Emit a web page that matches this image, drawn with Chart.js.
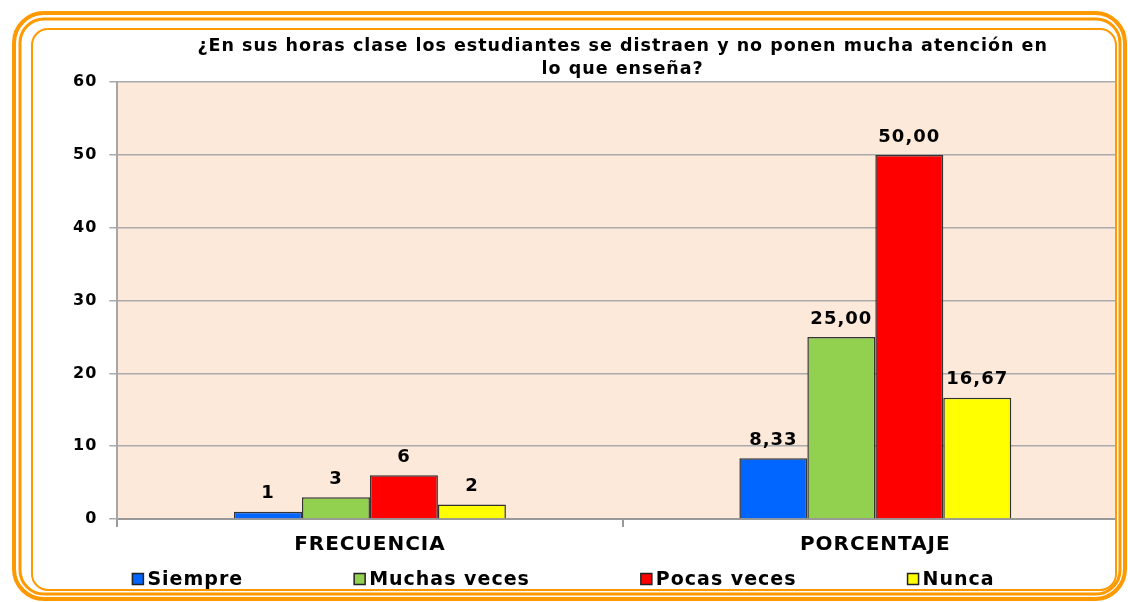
<!DOCTYPE html>
<html lang="es">
<head>
    <meta charset="UTF-8">
    <title>Distracción en clase</title>
    <script src="https://cdn.jsdelivr.net/npm/chart.js"></script>
    <style>
        body { margin:0; background:#fff; }
        #wrap { width:1128px; height:602px; position:relative; }
    </style>
</head>
<body>
    <div id="wrap"><canvas id="myChart"></canvas></div>

    <script>
        // datos
        const categorias = ['FRECUENCIA', 'PORCENTAJE'];
        const siempre = [1, 8.33];
        const muchasVeces = [3, 25];
        const pocasVeces = [6, 50];
        const nunca = [2, 16.67];
        const yTicks = [0, 10, 20, 30, 40, 50, 60];

        const fuente = "'DejaVu Sans', Verdana, sans-serif";

        // espaciado de letras (el original se ve ancho)
        const espaciado = {
            id: 'espaciado',
            beforeLayout(chart) { chart.ctx.letterSpacing = '1px'; },
            beforeDraw(chart) { chart.ctx.letterSpacing = '1px'; }
        };

        // fondo del area del grafico
        const fondoPlot = {
            id: 'fondoPlot',
            beforeDraw(chart) {
                const {ctx, chartArea} = chart;
                ctx.save();
                ctx.fillStyle = '#fde9da';
                ctx.fillRect(chartArea.left, chartArea.top, chartArea.right - chartArea.left, chartArea.bottom - chartArea.top);
                ctx.restore();
            }
        };

        // etiquetas encima de las barras
        const etiquetas = {
            id: 'etiquetas',
            afterDatasetsDraw(chart) {
                const ctx = chart.ctx;
                ctx.save();
                ctx.font = 'bold 18px ' + fuente;
                ctx.fillStyle = '#000';
                ctx.textAlign = 'center';
                ctx.textBaseline = 'bottom';
                chart.data.datasets.forEach((ds, i) => {
                    chart.getDatasetMeta(i).data.forEach((bar, j) => {
                        const v = ds.data[j];
                        const txt = j == 0 ? String(v) : v.toFixed(2).replace('.', ',');
                        ctx.fillText(txt, bar.x, bar.y - 9);
                    });
                });
                ctx.restore();
            }
        };

        // leyenda abajo con separacion amplia
        const leyenda = {
            id: 'leyenda',
            afterDraw(chart) {
                const ctx = chart.ctx;
                const sep = 110, caja = 11, y = 579;
                ctx.save();
                ctx.font = 'bold 19px ' + fuente;
                ctx.textBaseline = 'middle';
                const items = chart.data.datasets.map(ds => ({
                    ds, w: caja + 5 + ctx.measureText(ds.label).width
                }));
                const total = items.reduce((a, it) => a + it.w, 0) + sep * (items.length - 1);
                let x = chart.width / 2 - total / 2;
                items.forEach(it => {
                    ctx.fillStyle = it.ds.backgroundColor;
                    ctx.fillRect(x, y - caja / 2, caja, caja);
                    ctx.strokeStyle = '#222';
                    ctx.lineWidth = 1.5;
                    ctx.strokeRect(x, y - caja / 2, caja, caja);
                    ctx.fillStyle = '#000';
                    ctx.fillText(it.ds.label, x + caja + 4, y + 1);
                    x += it.w + sep;
                });
                ctx.restore();
            }
        };

        // marco naranja
        const marco = {
            id: 'marco',
            afterDraw(chart) {
                const ctx = chart.ctx;
                const W = chart.width, H = chart.height;
                ctx.save();
                ctx.beginPath();
                ctx.rect(0, 0, W, H);
                ctx.roundRect(33, 30, 1083, 560, 16);
                ctx.fillStyle = '#fff';
                ctx.fill('evenodd');
                ctx.strokeStyle = '#ff9900';
                ctx.lineWidth = 4;
                ctx.beginPath(); ctx.roundRect(14, 13, 1111, 586, 30); ctx.stroke();
                ctx.lineWidth = 3;
                ctx.beginPath(); ctx.roundRect(20, 19, 1100, 575, 24); ctx.stroke();
                ctx.lineWidth = 2;
                ctx.beginPath(); ctx.roundRect(32, 29, 1084, 561, 16); ctx.stroke();
                ctx.restore();
            }
        };

        const data = {
            labels: categorias,
            datasets: [
                { label: 'Siempre', data: siempre, backgroundColor: '#0066ff' },
                { label: 'Muchas veces', data: muchasVeces, backgroundColor: '#92d050' },
                { label: 'Pocas veces', data: pocasVeces, backgroundColor: '#ff0000' },
                { label: 'Nunca', data: nunca, backgroundColor: '#ffff00' }
            ].map(d => Object.assign(d, { borderColor: '#333', borderWidth: 1.5, categoryPercentage: 0.538, barPercentage: 1 }))
        };

        const options = {
            responsive: true,
            maintainAspectRatio: false,
            animation: false,
            layout: { padding: { top: 35, left: 61, right: 0, bottom: 39 } },
            plugins: {
                title: {
                    display: true,
                    fullSize: false,
                    text: ['¿En sus horas clase los estudiantes se distraen y no ponen mucha atención en', 'lo que enseña?'],
                    color: '#000',
                    font: { family: fuente, size: 17.5, weight: 'bold', lineHeight: 1.32 },
                    padding: { top: 0, bottom: 1 }
                },
                legend: { display: false },
                tooltip: { enabled: false }
            },
            scales: {
                x: {
                    grid: { drawOnChartArea: false, color: '#999', tickLength: 8, lineWidth: 2 },
                    border: { color: '#999', width: 2 },
                    ticks: { color: '#000', padding: 6, font: { family: fuente, size: 20, weight: 'bold' } }
                },
                y: {
                    min: 0,
                    max: 60,
                    afterBuildTicks(scale) { scale.ticks = yTicks.map(v => ({ value: v })); },
                    grid: { color: '#aaaaaa', lineWidth: 1.5, tickLength: 8 },
                    border: { color: '#a6a6a6', width: 2 },
                    ticks: { color: '#000', padding: 12, font: { family: fuente, size: 16, weight: 'bold' } }
                }
            }
        };

        const ctx = document.querySelector('#myChart').getContext('2d');
        const myChart = new Chart(ctx, {
            type: 'bar',
            data: data,
            options: options,
            plugins: [espaciado, fondoPlot, etiquetas, leyenda, marco]
        });
    </script>
</body>
</html>
